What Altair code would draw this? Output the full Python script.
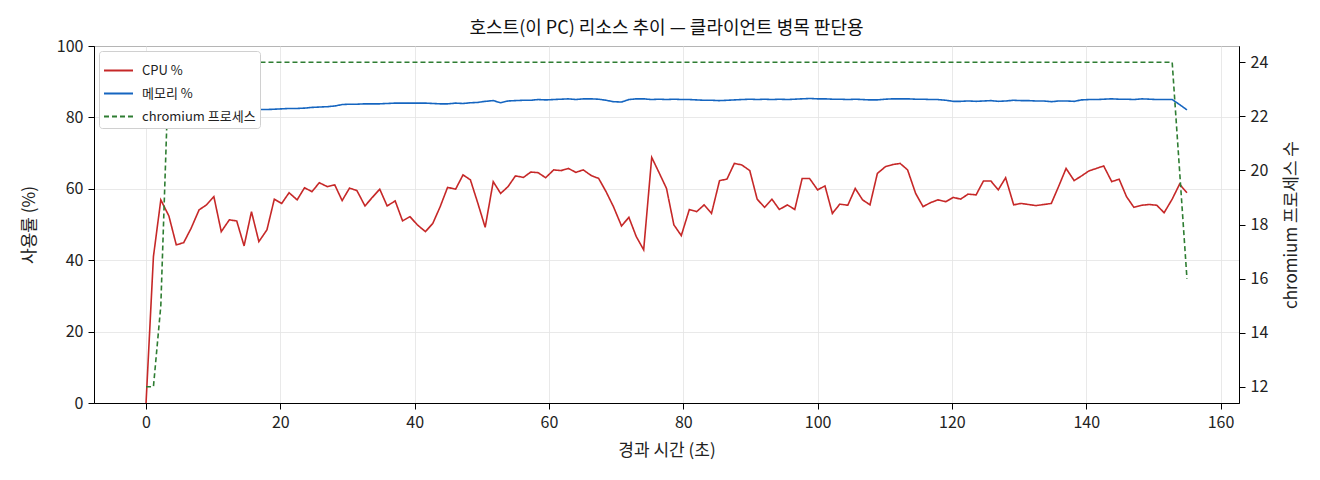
import altair as alt
import pandas as pd

FONT = "Noto Sans CJK KR"
RED = "#c62828"
BLUE = "#1565c0"
GREEN = "#2e7d32"

# elapsed seconds of each sample (~1.12 s apart)
elapsed = [
    0.0, 1.1, 2.2, 3.4, 4.5, 5.6, 6.7, 7.9, 9.0, 10.1,
    11.2, 12.4, 13.5, 14.6, 15.7, 16.8, 18.0, 19.1, 20.2, 21.3,
    22.5, 23.6, 24.7, 25.8, 27.0, 28.1, 29.2, 30.3, 31.4, 32.6,
    33.7, 34.8, 35.9, 37.1, 38.2, 39.3, 40.4, 41.6, 42.7, 43.8,
    44.9, 46.1, 47.2, 48.3, 49.4, 50.5, 51.7, 52.8, 53.9, 55.0,
    56.2, 57.3, 58.4, 59.5, 60.7, 61.8, 62.9, 64.0, 65.1, 66.3,
    67.4, 68.5, 69.6, 70.8, 71.9, 73.0, 74.1, 75.3, 76.4, 77.5,
    78.6, 79.7, 80.9, 82.0, 83.1, 84.2, 85.4, 86.5, 87.6, 88.7,
    89.9, 91.0, 92.1, 93.2, 94.3, 95.5, 96.6, 97.7, 98.8, 100.0,
    101.1, 102.2, 103.3, 104.5, 105.6, 106.7, 107.8, 108.9, 110.1, 111.2,
    112.3, 113.4, 114.6, 115.7, 116.8, 117.9, 119.1, 120.2, 121.3, 122.4,
    123.6, 124.7, 125.8, 126.9, 128.0, 129.2, 130.3, 131.4, 132.5, 133.7,
    134.8, 135.9, 137.0, 138.2, 139.3, 140.4, 141.5, 142.6, 143.8, 144.9,
    146.0, 147.1, 148.3, 149.4, 150.5, 151.6, 152.8, 153.9, 155.0,
]

cpu_pct = [
    0.0, 41.0, 56.9, 52.4, 44.3, 44.9, 48.9, 54.1, 55.5, 57.8,
    48.0, 51.3, 51.0, 44.0, 53.6, 45.2, 48.5, 57.1, 55.9, 58.9,
    56.9, 60.3, 59.2, 61.7, 60.6, 61.1, 56.7, 60.2, 59.5, 55.2,
    57.6, 59.9, 55.2, 56.6, 51.0, 52.2, 49.9, 48.0, 50.3, 55.0,
    60.4, 59.9, 63.9, 62.5, 56.0, 49.2, 62.0, 58.7, 60.6, 63.6,
    63.2, 64.7, 64.5, 63.1, 65.3, 65.1, 65.7, 64.6, 65.3, 63.7,
    62.9, 59.2, 55.0, 49.6, 52.0, 46.6, 42.9, 68.8, 64.5, 60.1,
    49.9, 46.9, 54.2, 53.6, 55.5, 53.1, 62.3, 62.7, 67.1, 66.7,
    65.1, 57.1, 54.8, 57.1, 54.2, 55.5, 54.2, 62.9, 62.9, 59.7,
    60.8, 53.1, 55.7, 55.4, 60.1, 56.9, 55.5, 64.3, 66.2, 66.8,
    67.1, 65.3, 58.7, 55.0, 56.1, 56.9, 56.4, 57.6, 57.1, 58.5,
    58.3, 62.2, 62.2, 59.7, 63.1, 55.5, 55.9, 55.6, 55.3, 55.6,
    55.9, 60.7, 65.7, 62.3, 63.6, 65.0, 65.7, 66.4, 62.0, 62.7,
    57.8, 54.8, 55.4, 55.6, 55.4, 53.3, 57.1, 61.3, 58.9,
]

mem_pct = [
    80.2, 80.8, 81.2, 81.5, 81.6, 81.7, 81.8, 81.8, 81.9, 81.9,
    82.0, 82.0, 82.0, 82.1, 82.1, 82.2, 82.2, 82.3, 82.4, 82.5,
    82.5, 82.6, 82.8, 82.9, 83.0, 83.2, 83.6, 83.7, 83.7, 83.8,
    83.8, 83.8, 83.9, 84.0, 84.0, 84.0, 84.0, 84.0, 83.9, 83.8,
    83.8, 84.0, 83.9, 84.1, 84.2, 84.5, 84.7, 84.1, 84.6, 84.7,
    84.8, 84.8, 85.0, 84.9, 85.0, 85.1, 85.2, 85.0, 85.2, 85.2,
    85.1, 84.8, 84.4, 84.3, 85.0, 85.2, 85.2, 85.0, 85.1, 85.0,
    85.1, 85.0, 85.0, 84.9, 84.8, 84.8, 84.7, 84.8, 84.9, 85.0,
    85.1, 85.0, 85.1, 85.0, 85.1, 85.0, 85.1, 85.2, 85.3, 85.2,
    85.2, 85.1, 85.1, 85.0, 85.1, 85.0, 84.9, 84.9, 85.1, 85.2,
    85.2, 85.2, 85.1, 85.1, 85.0, 85.0, 84.8, 84.5, 84.5, 84.6,
    84.5, 84.6, 84.7, 84.5, 84.6, 84.8, 84.7, 84.7, 84.6, 84.6,
    84.4, 84.6, 84.6, 84.5, 84.9, 85.0, 85.0, 85.1, 85.2, 85.1,
    85.1, 85.0, 85.2, 85.1, 85.0, 85.0, 85.0, 83.6, 82.1,
]

chromium_procs = [12, 12, 15] + [24] * 134 + [20, 16]

SERIES = ["CPU %", "메모리 %", "chromium 프로세스"]

usage = pd.concat(
    [
        pd.DataFrame({"t": elapsed, "value": cpu_pct, "series": SERIES[0]}),
        pd.DataFrame({"t": elapsed, "value": mem_pct, "series": SERIES[1]}),
    ]
)
procs = pd.DataFrame({"t": elapsed, "procs": chromium_procs, "series": SERIES[2]})

color = alt.Color(
    "series:N",
    scale=alt.Scale(domain=SERIES, range=[RED, BLUE, GREEN]),
    legend=alt.Legend(title=None),
)
dash = alt.StrokeDash(
    "series:N",
    scale=alt.Scale(domain=SERIES, range=[[1, 0], [1, 0], [5, 3]]),
    legend=alt.Legend(title=None),
)
x = alt.X(
    "t:Q",
    title="경과 시간 (초)",
    scale=alt.Scale(domain=[-7.75, 162.75], nice=False, zero=False),
    axis=alt.Axis(values=list(range(0, 161, 20)), grid=True),
)

usage_lines = (
    alt.Chart(usage)
    .mark_line(strokeWidth=1.6)
    .encode(
        x=x,
        y=alt.Y(
            "value:Q",
            title="사용률 (%)",
            scale=alt.Scale(domain=[0, 100], nice=False),
            axis=alt.Axis(values=list(range(0, 101, 20)), grid=True),
        ),
        color=color,
        strokeDash=dash,
        detail="series:N",
    )
)

procs_line = (
    alt.Chart(procs)
    .mark_line(strokeWidth=1.6)
    .encode(
        x=x,
        y=alt.Y(
            "procs:Q",
            title="chromium 프로세스 수",
            scale=alt.Scale(domain=[11.4, 24.6], nice=False, zero=False),
            axis=alt.Axis(
                orient="right",
                values=list(range(12, 25, 2)),
                grid=False,
                titleAngle=270,
                titleBaseline="top",
            ),
        ),
        color=color,
        strokeDash=dash,
    )
)

chart = (
    alt.layer(usage_lines, procs_line)
    .resolve_scale(y="independent")
    .properties(
        width=1145,
        height=357,
        autosize=alt.AutoSizeParams(type="none"),
        padding={"left": 86, "top": 38, "right": 70, "bottom": 65},
        title=alt.Title(
            "호스트(이 PC) 리소스 추이 — 클라이언트 병목 판단용",
            fontSize=18,
            fontWeight="normal",
            offset=0,
        ),
    )
    .configure(font=FONT)
    .configure_view(stroke="black", strokeWidth=1)
    .configure_axis(
        labelFont=FONT,
        titleFont=FONT,
        labelFontSize=16,
        titleFontSize=17,
        titleFontWeight="normal",
        labelColor="#222222",
        titleColor="#222222",
        domainColor="black",
        tickColor="black",
        tickSize=6,
        labelPadding=5,
        gridColor="#e3e3e3",
        gridWidth=0.8,
    )
    .configure_axisLeft(titlePadding=18)
    .configure_axisRight(titlePadding=16)
    .configure_axisBottom(titlePadding=12)
    .configure_legend(
        orient="none",
        legendX=5,
        legendY=5,
        fillColor="white",
        strokeColor="#d0d0d0",
        cornerRadius=3,
        padding=4,
        labelFont=FONT,
        labelFontSize=13,
        labelColor="#222222",
        labelOffset=8,
        symbolType="stroke",
        symbolStrokeWidth=2,
        symbolSize=841,
        rowPadding=0,
    )
    .configure_title(font=FONT, color="#111111", anchor="middle")
)

chart.save("out.html", embed_options={"renderer": "svg", "actions": False})
